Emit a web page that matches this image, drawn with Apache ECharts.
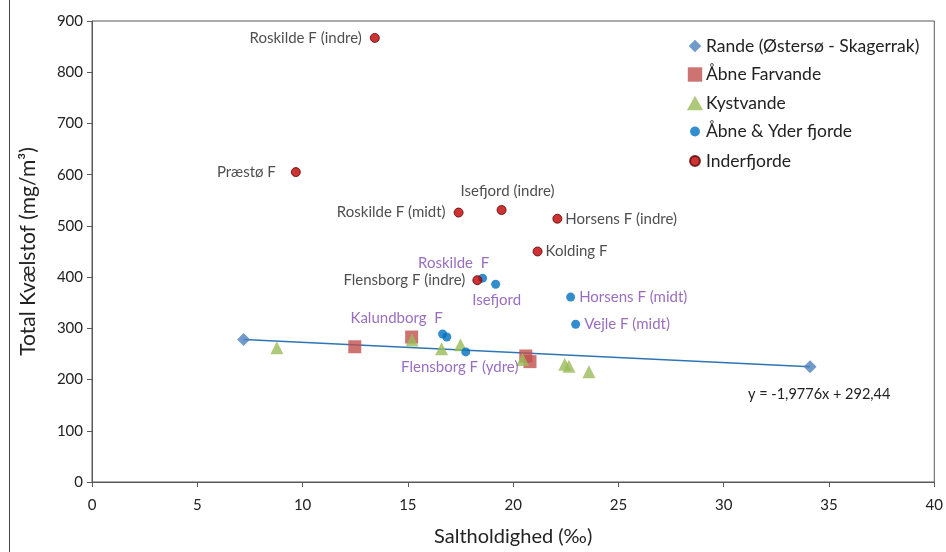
<!DOCTYPE html>
<html>
<head>
<meta charset="utf-8">
<script src="https://cdn.jsdelivr.net/npm/echarts@6/dist/echarts.min.js"></script>
<style>html,body{margin:0;padding:0;background:#fff}#c{width:946px;height:552px}</style>
</head>
<body>
<div id="c"></div>
<script>
// ---- data ----
var xTicks = [0, 5, 10, 15, 20, 25, 30, 35, 40];
var yTicks = [0, 100, 200, 300, 400, 500, 600, 700, 800, 900];
var seriesNames = ['Rande (Østersø - Skagerrak)', 'Åbne Farvande', 'Kystvande', 'Åbne & Yder fjorde', 'Inderfjorde'];

var randeX = [7.2, 34.1];
var randeY = [278, 225];

var aabneFarvandeX = [12.48, 15.18, 20.6, 20.8];
var aabneFarvandeY = [264, 283, 246, 235];

var kystvandeX = [8.78, 15.2, 16.6, 17.5, 20.45, 22.45, 22.65, 23.6];
var kystvandeY = [262, 277, 260, 268, 239, 230, 226, 215];

var yderNames = ['Roskilde  F', 'Isefjord', 'Kalundborg  F', '', 'Flensborg F (ydre)', 'Horsens F (midt)', 'Vejle F (midt)'];
var yderX = [18.55, 19.17, 16.65, 16.85, 17.75, 22.73, 22.97];
var yderY = [398, 386, 289, 283, 254, 361, 308];

var inderNames = ['Roskilde F (indre)', 'Præstø F', 'Roskilde F (midt)', 'Isefjord (indre)', 'Horsens F (indre)', 'Kolding F', 'Flensborg F (indre)'];
var inderX = [13.43, 9.68, 17.41, 19.45, 22.1, 21.16, 18.3];
var inderY = [867, 605, 526, 531, 514, 450, 394];

var trendSlope = -1.9776;
var trendIntercept = 292.44;
var trendText = 'y = -1,9776x + 292,44';

// ---- label styles (by name) ----
var labelStyle = {
  'Roskilde F (indre)': {position: 'left', distance: 8},
  'Præstø F': {position: 'left', distance: 15},
  'Roskilde F (midt)': {position: 'left', distance: 8},
  'Isefjord (indre)': {position: 'top', distance: 6, offset: [6, 0]},
  'Horsens F (indre)': {position: 'right', distance: 3},
  'Kolding F': {position: 'right', distance: 3},
  'Flensborg F (indre)': {position: 'left', distance: 7},
  'Roskilde  F': {position: 'top', distance: 3, offset: [-29, 0]},
  'Isefjord': {position: 'bottom', distance: 4, offset: [1, 0]},
  'Kalundborg  F': {position: 'top', distance: 4, offset: [-46, 0]},
  'Flensborg F (ydre)': {position: 'bottom', distance: 3, offset: [-6, 0]},
  'Horsens F (midt)': {position: 'right', distance: 4},
  'Vejle F (midt)': {position: 'right', distance: 4}
};

var FONT = 'Lato';
function pts(xs, ys) { return xs.map(function (x, i) { return [x, ys[i]]; }); }
function labeled(xs, ys, names, color) {
  return xs.map(function (x, i) {
    var n = names[i];
    var item = {value: [x, ys[i]], name: n};
    if (n) {
      var s = labelStyle[n] || {position: 'right'};
      item.label = Object.assign({show: true, formatter: n, color: color, fontSize: 15, fontFamily: FONT}, s);
    }
    return item;
  });
}
var trendXs = [Math.min.apply(null, randeX), Math.max.apply(null, randeX)];
var trendData = trendXs.map(function (x) { return [x, trendSlope * x + trendIntercept]; });

// legend icons with padding (bounding box 0..20) so they render smaller
var iconDiamond = 'path://M0,0M20,20M10,3L17,10L10,17L3,10Z';
var iconRect = 'path://M0,0M20,20M2,2L18,2L18,18L2,18Z';
var iconTri = 'path://M0,0M20,20M10,2L19,18L1,18Z';
var iconCircle = 'path://M0,0M20,20M10,4.5A5.5,5.5 0 1 1 9.99,4.5Z';

var chart = echarts.init(document.getElementById('c'));
chart.setOption({
  animation: false,
  backgroundColor: '#fff',
  textStyle: {fontFamily: FONT},
  grid: {left: 92, right: 11, top: 21, bottom: 67, show: true, borderColor: '#595959', borderWidth: 1},
  legend: {
    orient: 'vertical', left: 680, top: 32, itemGap: 10.5, itemWidth: 18, itemHeight: 18,
    textStyle: {fontSize: 17.5, color: '#222', fontFamily: FONT, padding: [0, 0, 0, -3]},
    data: [
      {name: seriesNames[0], icon: iconDiamond},
      {name: seriesNames[1], icon: iconRect},
      {name: seriesNames[2], icon: iconTri},
      {name: seriesNames[3], icon: iconCircle},
      {name: seriesNames[4], icon: iconCircle}
    ]
  },
  xAxis: {
    type: 'value', min: xTicks[0], max: xTicks[xTicks.length - 1], interval: 5,
    name: 'Saltholdighed (‰)', nameLocation: 'middle', nameGap: 45,
    nameTextStyle: {fontSize: 20, color: '#222', fontFamily: FONT},
    axisLine: {show: true, lineStyle: {color: '#595959'}},
    axisTick: {show: true, length: 5, lineStyle: {color: '#595959'}},
    axisLabel: {fontSize: 15, color: '#222', margin: 16, fontFamily: FONT},
    splitLine: {show: false}
  },
  yAxis: {
    type: 'value', min: yTicks[0], max: yTicks[yTicks.length - 1], interval: 100,
    name: 'Total Kvælstof (mg/m³)', nameLocation: 'middle', nameGap: 53, nameRotate: 90,
    nameTextStyle: {fontSize: 21, color: '#222', fontFamily: FONT},
    axisLine: {show: true, lineStyle: {color: '#595959'}},
    axisTick: {show: true, length: 5, lineStyle: {color: '#595959'}},
    axisLabel: {fontSize: 15, color: '#222', margin: 9, fontFamily: FONT},
    splitLine: {show: false}
  },
  graphic: [
    {type: 'line', shape: {x1: 9.5, y1: 0, x2: 9.5, y2: 552}, style: {stroke: '#444', lineWidth: 1}, silent: true},
    {type: 'text', left: 748, top: 387, style: {text: trendText, fontSize: 14.5, fill: '#222', fontFamily: FONT}}
  ],
  series: [
    {
      type: 'line', name: 'trend', data: trendData, symbol: 'none', silent: true,
      lineStyle: {color: '#2E75B6', width: 1.5}, z: 1, legendHoverLink: false
    },
    {
      type: 'scatter', name: seriesNames[0], data: pts(randeX, randeY), symbol: 'diamond', symbolSize: 13,
      itemStyle: {color: '#4F81BD'}, z: 3
    },
    {
      type: 'scatter', name: seriesNames[1], data: pts(aabneFarvandeX, aabneFarvandeY), symbol: 'rect', symbolSize: 13,
      itemStyle: {color: '#C0504D'}, z: 2
    },
    {
      type: 'scatter', name: seriesNames[2], data: pts(kystvandeX, kystvandeY), symbol: 'triangle', symbolSize: 13,
      itemStyle: {color: '#9BBB59'}, z: 3
    },
    {
      type: 'scatter', name: seriesNames[3], data: labeled(yderX, yderY, yderNames, '#7F4AB0'), symbol: 'circle', symbolSize: 9,
      itemStyle: {color: '#0070C0'}, z: 4
    },
    {
      type: 'scatter', name: seriesNames[4], data: labeled(inderX, inderY, inderNames, '#222'), symbol: 'circle', symbolSize: 9,
      itemStyle: {color: '#C00000', borderColor: '#5a0000', borderWidth: 1}, z: 5
    }
  ]
});
</script>
</body>
</html>
